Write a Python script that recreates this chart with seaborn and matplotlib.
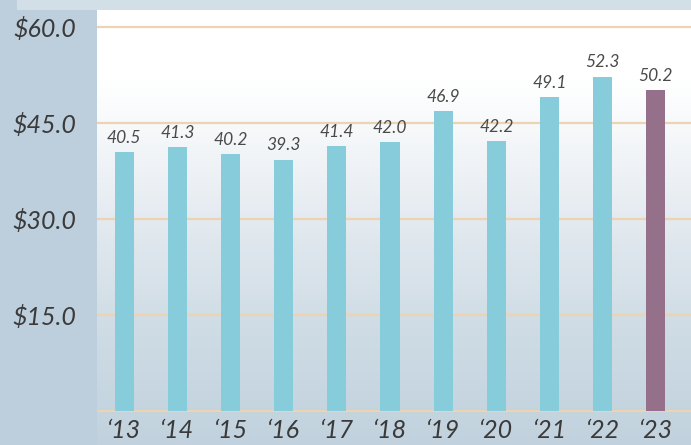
import numpy as np
import pandas as pd
import matplotlib
matplotlib.use("Agg")
import matplotlib.pyplot as plt
import seaborn as sns
from matplotlib.colors import LinearSegmentedColormap

years = ["\u201813", "\u201814", "\u201815", "\u201816", "\u201817", "\u201818",
         "\u201819", "\u201820", "\u201821", "\u201822", "\u201823"]
values = [40.5, 41.3, 40.2, 39.3, 41.4, 42.0, 46.9, 42.2, 49.1, 52.3, 50.2]
bar_colors = ["#87ccda"] * 10 + ["#94708a"]
yticks = [15, 30, 45, 60]
ytick_labels = ["$15.0", "$30.0", "$45.0", "$60.0"]

sns.set_theme(style="white")
plt.rcParams["font.family"] = ["Lato", "DejaVu Sans"]

W, H = 691, 445
fig = plt.figure(figsize=(W / 100, H / 100), dpi=100)
fig.patch.set_facecolor("#bdcfdc")

# top strip
fig.patches.append(plt.Rectangle((0.025, 1 - 10 / H), 0.975, 10 / H, transform=fig.transFigure,
                                 facecolor="#d3dfe7", edgecolor="none", zorder=0))

left = 97 / W
bottom = 0.0
top_px = 10
ax = fig.add_axes([left, bottom, 1 - left, 1 - top_px / H])

df = pd.DataFrame({"year": years, "value": values})
sns.barplot(data=df, x="year", y="value", hue="year", palette=bar_colors,
            legend=False, width=0.36, ax=ax, zorder=3, saturation=1, linewidth=0)

ymin, ymax = -5.3, 62.7
xmin, xmax = -0.51, 10.66
ax.set_ylim(ymin, ymax)
ax.set_xlim(xmin, xmax)

# background gradient
cmap = LinearSegmentedColormap.from_list("bg", [
    (0.0, "#c1d2de"), (0.25, "#cddbe4"), (0.5, "#e2e9ef"), (0.72, "#f6f8fa"), (0.84, "#ffffff"), (1.0, "#ffffff")])
grad = np.linspace(0, 1, 256).reshape(-1, 1)
ax.imshow(grad, aspect="auto", cmap=cmap, origin="lower",
          extent=[xmin, xmax, ymin, ymax], zorder=0)

for y in [0] + yticks:
    ax.axhline(y, color="#ecd3b1", lw=1.6, zorder=1)

for i, v in enumerate(values):
    ax.text(i, v + 1.0, f"{v:.1f}", ha="center", va="bottom", fontsize=12.5,
            style="italic", color="#4a4a4a", zorder=4)

ax.set_yticks(yticks)
ax.set_yticklabels(ytick_labels, fontsize=18, style="italic", color="#3a3a3a")
ax.set_xticks(range(len(years)))
ax.set_xticklabels(years, fontsize=18, style="italic", color="#3a3a3a")
ax.tick_params(axis="y", length=0, pad=15)
ax.tick_params(axis="x", length=0, pad=-19)
ax.set_xlabel("")
ax.set_ylabel("")
for s in ax.spines.values():
    s.set_visible(False)

fig.savefig("out.png", dpi=100)
